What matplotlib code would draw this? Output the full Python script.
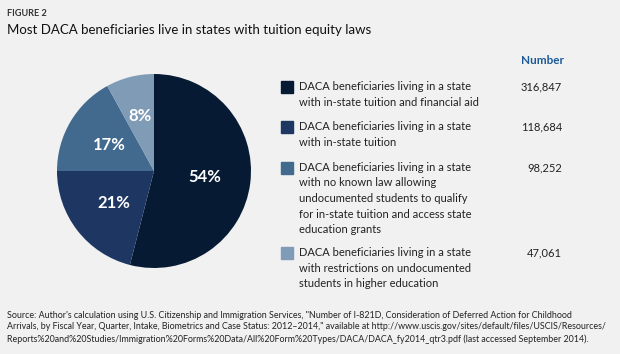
import numpy as np
import matplotlib.pyplot as plt

# Datos del gráfico
porcentajes = [54, 21, 17, 8]
beneficiarios = ["316,847", "118,684", "98,252", "47,061"]
categorias = [
    "DACA beneficiaries living in a state\nwith in-state tuition and financial aid",
    "DACA beneficiaries living in a state\nwith in-state tuition",
    "DACA beneficiaries living in a state\nwith no known law allowing\nundocumented students to qualify\nfor in-state tuition and access state\neducation grants",
    "DACA beneficiaries living in a state\nwith restrictions on undocumented\nstudents in higher education",
]
colores = ["#061b33", "#1e3762", "#426a8f", "#7f9bb5"]

FONDO = "#f1f1f1"
W, H = 620, 354
plt.rcParams["font.family"] = ["Lato", "DejaVu Sans"]

fig = plt.figure(figsize=(W / 100, H / 100), dpi=100, facecolor=FONDO)

# Pie
cx, cy, r = 154, 171, 97
ax = fig.add_axes([(cx - r) / W, (H - cy - r) / H, 2 * r / W, 2 * r / H])
ax.set_facecolor(FONDO)
wedges, _ = ax.pie(porcentajes, colors=colores, startangle=90, counterclock=False,
                   wedgeprops=dict(linewidth=0))
ax.set_xlim(-1, 1)
ax.set_ylim(-1, 1)
ax.set_aspect("equal")
ax.axis("off")

for p, w in zip(porcentajes, wedges):
    mid = np.deg2rad((w.theta1 + w.theta2) / 2)
    d = 0.59 if p < 10 else 0.53
    ax.text(d * np.cos(mid), d * np.sin(mid), f"{p}%", color="white",
            fontsize=12, fontweight="bold", ha="center", va="center")

# Títulos
fig.text(7 / W, 1 - 13 / H, "FIGURE 2", fontsize=6.6, fontweight="bold",
         color="#333333", va="center")
fig.text(7 / W, 1 - 30 / H, "Most DACA beneficiaries live in states with tuition equity laws",
         fontsize=9.5, color="#111111", va="center")

# Leyenda con números
fig.text(543 / W, 1 - 61 / H, "Number", fontsize=8.5, fontweight="bold",
         color="#1b5a97", ha="center", va="center")
filas_y = [87, 127, 168, 253]
for cat, num, col, y in zip(categorias, beneficiarios, colores, filas_y):
    fig.patches.append(plt.Rectangle((281 / W, 1 - (y + 6) / H), 12 / W, 12 / H,
                                     transform=fig.transFigure, color=col))
    fig.text(299 / W, 1 - (y - 6) / H, cat, fontsize=8, color="#222222",
             va="top", linespacing=1.5)
    fig.text(562 / W, 1 - (y - 6) / H, num, fontsize=8, color="#222222",
             va="top", ha="right")

fuente = ("Source: Author's calculation using U.S. Citizenship and Immigration Services, \"Number of I-821D, Consideration of Deferred Action for Childhood\n"
          "Arrivals, by Fiscal Year, Quarter, Intake, Biometrics and Case Status: 2012\u20132014,\" available at http://www.uscis.gov/sites/default/files/USCIS/Resources/\n"
          "Reports%20and%20Studies/Immigration%20Forms%20Data/All%20Form%20Types/DACA/DACA_fy2014_qtr3.pdf (last accessed September 2014).")
fig.text(7 / W, 1 - 311 / H, fuente, fontsize=6.4, color="#222222", va="top",
         linespacing=1.35)

plt.savefig("out.png", dpi=100, facecolor=FONDO)
